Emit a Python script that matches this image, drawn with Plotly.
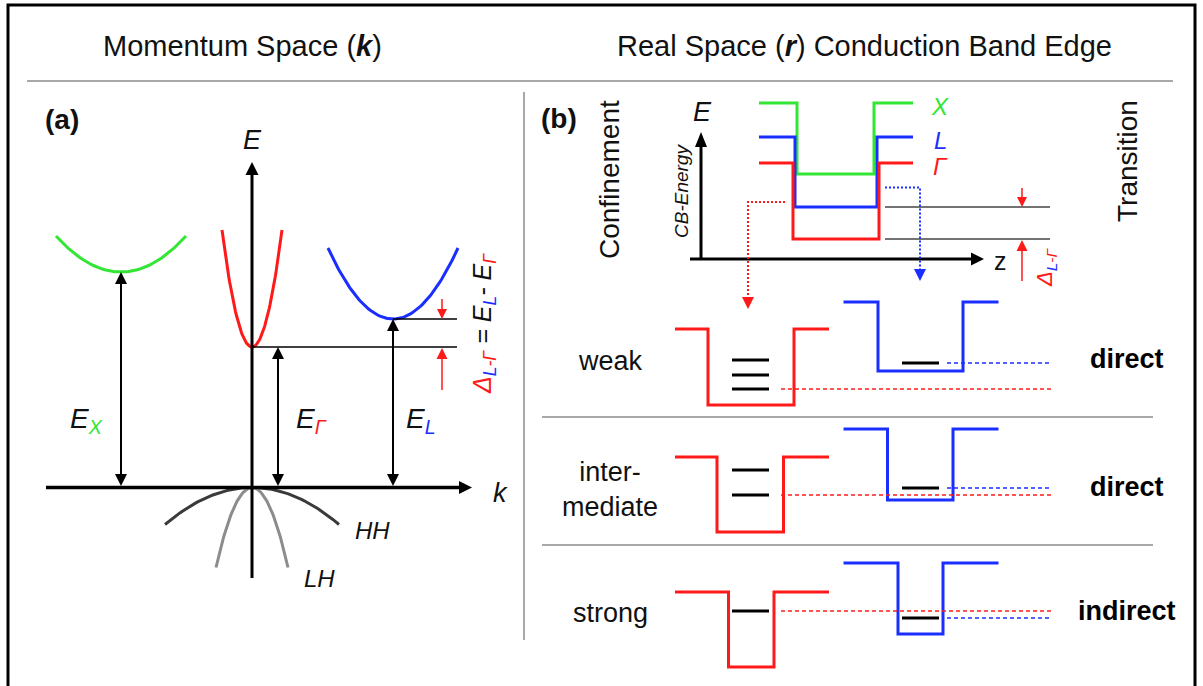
import numpy as np
import plotly.graph_objects as go

W, H = 1203, 686

RED = "#ff1a1a"
BLUE = "#1a2eff"
GREEN = "#33e633"
SEP = "#a8a8a8"
INK = "#111111"
FONT = "Liberation Sans, Arial, sans-serif"

# ---------------- panel (a): E(k) picture ----------------
k_axis_y = 487.5            # valence-band top, k axis
E_axis_x = 252              # Γ point
valley_names = ["X", "Γ", "L"]
valley_k = [121, 252, 393]          # position of each conduction-band minimum
valley_E = [272, 347, 319]          # height of each minimum
valley_halfwidth = [65, 30, 65]
valley_rise = [36, 117, 71]
valley_colors = [GREEN, RED, BLUE]
gap_label_x = [86, 311, 421]

hole_names = ["HH", "LH"]
hole_halfwidth = [87, 36]
hole_drop = [37, 80]
hole_colors = ["#3a3a3a", "#8c8c8c"]
hole_label_xy = [(372, 530), (319, 578)]

# ---------------- panel (b): real-space band edges ----------------
profile_names = ["X", "L", "Γ"]
profile_colors = [GREEN, BLUE, RED]
profile_barrier = [103, 137, 163]
profile_well = [174, 207, 239]
profile_wall_left = [797, 795, 793]
profile_wall_right = [874, 877, 879]
profile_x0, profile_x1 = 759, 913

row_labels = ["weak", "inter-<br>mediate", "strong"]
row_transition = ["direct", "direct", "indirect"]
row_label_y = [361, 489, 613]
sep_y = [417, 545]

g_barrier = [329, 457, 592]
g_bottom = [405, 532, 667]
g_wall_left = [708, 717, 728.5]
g_wall_right = [794, 783.5, 774]
g_levels = [[360, 375, 389], [470, 495], [611]]

l_barrier = [302, 429, 563]
l_bottom = [371, 500, 634]
l_wall_left = [878, 887.5, 898]
l_wall_right = [963, 953, 943]
l_levels = [[363], [488], [618]]

fig = go.Figure()


def poly(xs, ys, color, width, dash=None):
    fig.add_trace(go.Scatter(x=list(xs), y=list(ys), mode="lines",
                             line=dict(color=color, width=width, dash=dash),
                             hoverinfo="skip"))


def head(xt, yt, ux, uy, hl, hw, color):
    bx, by = xt - ux * hl, yt - uy * hl
    px, py = -uy, ux
    fig.add_trace(go.Scatter(x=[xt, bx + px * hw, bx - px * hw, xt],
                             y=[yt, by + py * hw, by - py * hw, yt],
                             mode="lines", fill="toself", fillcolor=color,
                             line=dict(width=0, color=color), hoverinfo="skip"))


def arrow(x0, y0, x1, y1, color, width, hl, hw, dash=None, both=False):
    d = np.hypot(x1 - x0, y1 - y0)
    ux, uy = (x1 - x0) / d, (y1 - y0) / d
    sx, sy = (x0 + ux * hl, y0 + uy * hl) if both else (x0, y0)
    poly([sx, x1 - ux * hl], [sy, y1 - uy * hl], color, width, dash)
    head(x1, y1, ux, uy, hl, hw, color)
    if both:
        head(x0, y0, -ux, -uy, hl, hw, color)


def text(x, y, s, size, color=INK, angle=0, xanchor="center", yanchor="middle"):
    fig.add_annotation(x=x, y=y, text=s, showarrow=False, textangle=angle,
                       xanchor=xanchor, yanchor=yanchor,
                       font=dict(family=FONT, size=size, color=color))


def span(s, c):
    return f'<span style="color:{c}">{s}</span>'


# frame, header rule and panel divider
poly([8, 8, 1195, 1195], [700, 5, 5, 700], "#000000", 3)
poly([27, 1173], [81, 81], SEP, 2)
poly([524, 524], [92, 640], SEP, 2)
text(242, 46, "Momentum Space (<b><i>k</i></b>)", 29)
text(864, 46, "Real Space (<b><i>r</i></b>) Conduction Band Edge", 29)

# ---- panel (a) ----
text(62, 119, "<b>(a)</b>", 28)

# light- and heavy-hole bands
for hw_, dr, c in zip(hole_halfwidth, hole_drop, hole_colors):
    t = np.linspace(-1, 1, 81)
    poly(E_axis_x + hw_ * t, k_axis_y + dr * t ** 2, c, 3)
for name, (lx, ly) in zip(hole_names, hole_label_xy):
    text(lx, ly, f"<i>{name}</i>", 24)

# conduction-band valleys
for k0, e0, hw_, rise, c in zip(valley_k, valley_E, valley_halfwidth, valley_rise, valley_colors):
    t = np.linspace(-1, 1, 81)
    poly(k0 + hw_ * t, e0 - rise * t ** 2, c, 3)

# reference levels for the L-Γ offset
poly([valley_k[2], 457], [valley_E[2]] * 2, "#000000", 1.3)
poly([valley_k[1], 457], [valley_E[1]] * 2, "#000000", 1.3)
arrow(442, 299, 442, valley_E[2], RED, 1.5, 10, 5)
arrow(442, 390, 442, valley_E[1] + 1, RED, 1.5, 11, 5.5)
text(484, 324,
     span("<i>Δ</i><sub><i>" + span("L", BLUE) + "-Γ</i></sub>", RED)
     + "<i> = E<sub>" + span("L", BLUE) + "</sub>- E<sub>" + span("Γ", RED) + "</sub></i>",
     25, angle=-90)

# axes
arrow(E_axis_x, 578, E_axis_x, 162, "#000000", 3, 13, 6.5)
arrow(46, k_axis_y, 472, k_axis_y, "#000000", 3.5, 13, 6.5)
text(252, 140, "<i>E</i>", 27)
text(500, 493, "<i>k</i>", 27)

# band-gap arrows
arrow_x = [121, 278, 393]
for ax_, e0, name, c, lx in zip(arrow_x, valley_E, valley_names, valley_colors, gap_label_x):
    arrow(ax_, k_axis_y - 1.5, ax_, e0, "#000000", 2, 12, 6, both=True)
    text(lx, 420, "<i>E<sub>" + span(name, c) + "</sub></i>", 28)

# ---- panel (b) ----
text(559, 118, "<b>(b)</b>", 28)
text(609, 180, "Confinement", 28, angle=-90)
text(1127, 161, "Transition", 28, angle=-90)

# inset: band-edge profile along z
arrow(701, 260, 701, 132, "#000000", 3, 15, 6)
arrow(690, 259, 984, 259, "#000000", 3, 13, 6.5)
text(702, 112, "<i>E</i>", 27)
text(1000, 261, "z", 25)
text(681, 191, "<i>CB-Energy</i>", 19, angle=-90)
for nm, c, b, wl, xl, xr in zip(profile_names, profile_colors, profile_barrier,
                                profile_well, profile_wall_left, profile_wall_right):
    poly([profile_x0, xl, xl, xr, xr, profile_x1], [b, b, wl, wl, b, b], c, 3)
    text(940, b + 3, f"<i>{nm}</i>", 24, color=c)

poly([885, 1050], [profile_well[1]] * 2, "#444444", 1.4)
poly([885, 1050], [profile_well[2]] * 2, "#444444", 1.4)
arrow(1022, 188, 1022, profile_well[1], RED, 1.5, 10, 5)
arrow(1022, 281, 1022, profile_well[2] + 1, RED, 1.5, 11, 5.5)
text(1046, 268, span("<i>Δ</i><sub><i>" + span("L", BLUE) + "-Γ</i></sub>", RED), 22, angle=-90)

# projections of the Γ and L edges onto the quantum wells below
poly([785, 748, 748], [202, 202, 298], RED, 2, "2px,2px")
head(748, 309, 0, 1, 12, 6, RED)
poly([885, 920, 920], [187.5, 187.5, 270], BLUE, 2, "2px,2px")
head(920, 281, 0, 1, 12, 6, BLUE)

# confinement rows
for i in range(3):
    text(610, row_label_y[i], row_labels[i], 27)
    text(1127, row_label_y[i] - 2, f"<b>{row_transition[i]}</b>", 27, color="#000000")
    # Γ well
    poly([675, g_wall_left[i], g_wall_left[i], g_wall_right[i], g_wall_right[i], 829],
         [g_barrier[i], g_barrier[i], g_bottom[i], g_bottom[i], g_barrier[i], g_barrier[i]], RED, 3)
    # L well
    poly([843.5, l_wall_left[i], l_wall_left[i], l_wall_right[i], l_wall_right[i], 998.5],
         [l_barrier[i], l_barrier[i], l_bottom[i], l_bottom[i], l_barrier[i], l_barrier[i]], BLUE, 3)
    # confined states
    for lv in g_levels[i]:
        poly([732, 769], [lv, lv], "#000000", 3)
    for lv in l_levels[i]:
        poly([902, 939], [lv, lv], "#000000", 3)
    # ground-state energies carried to the right
    poly([781, 1052], [g_levels[i][-1]] * 2, RED, 1.5, "4px,3px")
    poly([947, 1052], [l_levels[i][-1]] * 2, BLUE, 1.5, "4px,3px")
for y in sep_y:
    poly([542, 1153], [y, y], SEP, 2)

fig.update_layout(
    width=W, height=H, margin=dict(l=0, r=0, t=0, b=0),
    paper_bgcolor="white", plot_bgcolor="white", showlegend=False,
    xaxis=dict(range=[0, W], visible=False, fixedrange=True),
    yaxis=dict(range=[H, 0], visible=False, fixedrange=True),
)
fig.write_html("out.html")
